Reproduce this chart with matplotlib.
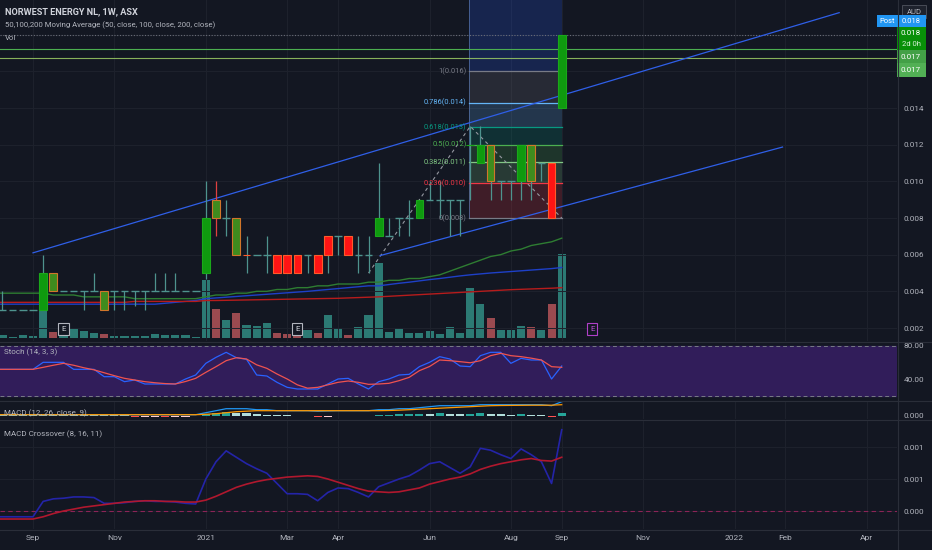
import matplotlib
matplotlib.use('Agg')
import matplotlib.pyplot as plt
import matplotlib.dates as mdates
import matplotlib.transforms as mtransforms
from matplotlib.patches import Rectangle
import pandas as pd

plt.rcParams['font.family'] = ['Roboto', 'DejaVu Sans']

BG = '#131722'
GRID = '#1e222d'
TXT = '#b2b5be'

# ---- weekly bars, 2020-08-10 .. 2021-09-06 ----
dates = pd.date_range('2020-08-10', periods=57, freq='7D')

opens = [.003, .003, .003, .003, .003, .003, .005, .004, .004, .004,
         .004, .004, .004, .004, .004, .004, .004, .004, .004, .004,
         .004, .005, .009, .008, .008, .006, .006, .006, .006, .006,
         .006, .006, .006, .007, .007, .007, .006, .006, .007, .007,
         .008, .008, .008, .009, .009, .009, .009, .012, .011, .012,
         .010, .010, .010, .012, .011, .011, .014]
highs = [.003, .004, .003, .003, .003, .006, .005, .004, .004, .004,
         .005, .004, .004, .004, .004, .004, .005, .005, .005, .004,
         .004, .010, .010, .009, .008, .007, .006, .007, .006, .006,
         .006, .006, .006, .007, .007, .007, .007, .007, .011, .008,
         .008, .009, .009, .010, .010, .009, .009, .013, .013, .012,
         .010, .010, .012, .012, .011, .011, .018]
lows = [.003, .003, .003, .003, .003, .003, .004, .004, .004, .003,
        .004, .003, .003, .003, .0032, .003, .004, .004, .004, .004,
        .004, .0047, .007, .007, .006, .005, .006, .005, .005, .005,
        .005, .005, .005, .005, .006, .006, .005, .005, .007, .007,
        .007, .007, .008, .009, .008, .007, .007, .009, .011, .009,
        .009, .009, .009, .009, .010, .008, .014]
closes = [.003, .003, .003, .003, .003, .005, .004, .004, .004, .004,
          .004, .003, .004, .004, .004, .004, .004, .004, .004, .004,
          .004, .008, .008, .008, .006, .006, .006, .006, .005, .005,
          .005, .006, .005, .006, .007, .006, .006, .006, .008, .007,
          .008, .008, .009, .009, .009, .009, .009, .012, .012, .010,
          .010, .010, .012, .010, .011, .008, .018]
# g = green body, o = green body / orange edge, r = red body, d = doji
styles = list('dddddgoddddoddddddddd' 'godorddrrrdrrdrddgdddgddddggoddgodrg')

volume = [2, 3, 1.3, 3, 2, 28, 6.3, 4, 10.3, 7, 4.7, 4, 2.3, 2.3, 2.3,
          2.3, 3.7, 2.7, 3, 3, 1.3, 58, 29, 18, 24.7, 13, 12.3, 15.3, 5.3,
          4, 3, 8, 4.7, 23, 9.7, 3, 11.3, 23, 75.3, 6.3, 9.7, 4.7, 5.3,
          7.3, 4, 11.3, 5.3, 49.7, 34, 19.7, 8, 8, 12, 11.3, 8, 34, 84]
vol_down = [0, 0, 0, 0, 0, 0, 1, 0, 0, 0, 0, 1, 0, 0, 0, 0, 0, 0, 0, 0,
            0, 0, 1, 0, 1, 0, 0, 0, 1, 1, 1, 0, 1, 0, 0, 1, 0, 0, 0, 0,
            0, 0, 0, 0, 0, 0, 0, 0, 0, 1, 0, 0, 0, 1, 0, 1, 0]

ma50 = [.0039, .0039, .0039, .0039, .0039, .0039, .0038, .0038, .0038,
        .0037, .0037, .0037, .0037, .0037, .0036, .0036, .0036, .0036,
        .0036, .0036, .0036, .0037, .0038, .0038, .0039, .0039, .0040,
        .0040, .0041, .0041, .0042, .0042, .0043, .0043, .0044, .0044,
        .0044, .0045, .0045, .0046, .0046, .0047, .0047, .0048, .0049,
        .0051, .0053, .0055, .0057, .0059, .0060, .0062, .0063, .0065,
        .0066, .0067, .0069]
ma100 = [.0033, .0033, .0033, .0033, .0033, .0033, .0033, .0033, .0033,
         .0033, .0033, .0033, .0033, .0033, .0033, .0033, .0033, .00335,
         .0034, .00345, .0035, .0036, .00364, .00368, .00372, .00376,
         .0038, .00384, .00388, .00392, .00396, .0040, .00405, .0041,
         .00415, .0042, .00425, .0043, .0043, .00437, .00444, .0045,
         .00457, .00464, .0047, .00477, .00484, .0049, .00495, .005,
         .00504, .00508, .00512, .00516, .0052, .00524, .0053]
ma200 = [.0034, .0034, .0034, .0034, .0034, .0034, .0034, .0034, .0034,
         .0034, .0034, .0034, .0034, .0034, .00345, .00345, .00345,
         .00345, .00345, .00345, .00345, .0035, .0035, .00351, .00352,
         .00353, .00354, .00355, .00356, .00357, .00358, .00359, .0036,
         .00361, .00362, .00364, .00366, .00368, .0037, .00373, .00376,
         .00379, .00382, .00385, .00388, .00391, .00394, .00397, .004,
         .00403, .00406, .00409, .00411, .00413, .00415, .00417, .0042]

stoch_k = [51.6, 51.6, 51.6, 51.6, 51.6, 60, 60, 60, 51.6, 51.6, 51.6,
           42.8, 42.8, 36.8, 38.8, 34, 34, 34, 34, 40, 44.8, 58.8, 66, 72,
           65.6, 63.6, 44.8, 43.6, 36, 30, 28, 28, 28, 34, 40, 40.8, 34, 28,
           36.8, 40, 44.8, 45.6, 54.8, 60, 66.8, 64, 55.6, 54.8, 68, 72, 72,
           58.8, 64.8, 62.8, 62.8, 40, 55.6]
stoch_d = [51.6, 51.6, 51.6, 51.6, 51.6, 54, 56.5, 58.8, 56.5, 53.5, 51,
           47.5, 44, 40.8, 38.8, 36.8, 35.5, 34.5, 34, 37, 40.8, 48, 54.8,
           62, 65.6, 64, 57, 52.8, 46, 40, 33, 29, 30, 33, 36, 37.6, 36,
           33.6, 34, 34.8, 38, 42, 50, 55, 62.8, 62, 60.8, 59.5, 62, 68,
           70.8, 68, 66.8, 65, 62.8, 54.8, 54]

macd_line = [.0001] * 21 + [
    .0003, .0005, .0007, .0007, .0007, .0006, .0006, .0005, .0005, .0005,
    .0005, .00045, .00048, .0005, .0005, .0005, .0005, .0006, .0006,
    .0007, .0007, .0008, .0009, .0010, .0010, .0010, .0010, .0011, .0011,
    .0011, .0011, .0011, .0011, .0011, .0010, .0014]
macd_signal = [.0001] * 21 + [
    .00014, .0002, .0003, .0004, .00045, .0005, .0005] + [.0005] * 11 + [
    .00052, .00055, .0006, .00065, .0007, .00075, .0008, .00085, .0009,
    .00095, .001, .00102, .00103, .00104, .00105, .00105, .00105, .0011]
macd_hist = [1.6, 1.6, 1.5, 1.5, 1.4, 1.4, 1.4, 1.3, 1.3, 1.2, 1.2, 1.1,
             1.0, 1.0, -1.2, -1.1, -1.0, -1.0, -0.9, -0.8, -0.7, 1.6, 2.8,
             3.4, 3.0, 2.5, 1.6, 1.1, .6, .3, -.3, -.6, -1.0, -.8, -.6,
             -.5, -.4, -.3, .6, 1.0, 1.5, 1.8, 2.2, 2.0, 2.4, 2.1, 1.7,
             1.9, 2.3, 2.0, 1.6, 1.2, 1.5, 1.2, .7, -.8, 2.8]

cross_fast = [-.00009] * 5 + [
    .00015, .00019, .0002, .00022, .00022, .00021, .00012, .00012, .00013,
    .00015, .00016, .00015, .00015, .00014, .00012, .00011, .0005, .00077,
    .00094, .00084, .00074, .00066, .00059, .00043, .00027, .00027,
    .00026, .00016, .00029, .00036, .00035, .00029, .00022, .00038,
    .00044, .0005, .00055, .00064, .00074, .00077, .00068, .00059,
    .00069, .00098, .00095, .00088, .00082, .00097, .00088, .00077,
    .00043, .00127]
cross_slow = [-.000125] * 5 + [
    -.00009, -.00004, 0, .00003, .00006, .00008, .0001, .00012, .00014,
    .00015, .00016, .00016, .00015, .00015, .00014, .00014, .00017,
    .00023, .0003, .00037, .00042, .00046, .00049, .00051, .00053, .00054,
    .00055, .00054, .0005, .00045, .0004, .00035, .00031, .0003, .00029,
    .0003, .00033, .00036, .00042, .00046, .0005, .00053, .00058, .00065,
    .0007, .00074, .00077, .0008, .00082, .00079, .00078, .00084]

month_ticks = ['2020-09-07', '2020-11-02', '2021-01-04', '2021-03-01',
               '2021-04-05', '2021-06-07', '2021-08-02', '2021-09-06',
               '2021-11-01', '2022-01-03', '2022-02-07', '2022-04-04']
month_labels = ['Sep', 'Nov', '2021', 'Mar', 'Apr', 'Jun', 'Aug', 'Sep',
                'Nov', '2022', 'Feb', 'Apr']

fib_ratios = [0, 0.236, 0.382, 0.5, 0.618, 0.786, 1, 1.618]
fib_colors = ['#787b86', '#f23645', '#81c784', '#4caf50', '#089981',
              '#64b5f6', '#787b86', '#2962ff']

# ---- layout ----
W, H = 932, 550
PLOT_W = 897
fig = plt.figure(figsize=(W / 100, H / 100), dpi=100, facecolor=BG)


def rect(top, bottom):
    return [0, 1 - bottom / H, PLOT_W / W, (bottom - top) / H]


def ftext(px, py, s, **kw):
    fig.text(px / W, 1 - py / H, s, **kw)


def fbox(px, py, w, h, fc, ec='none'):
    fig.add_artist(Rectangle((px / W, 1 - (py + h) / H), w / W, h / H,
                             transform=fig.transFigure, fc=fc, ec=ec,
                             lw=0.6))


ax_vol = fig.add_axes(rect(0, 341))
ax = fig.add_axes(rect(0, 341))
ax_st = fig.add_axes(rect(342, 400))
ax_md = fig.add_axes(rect(401, 419))
ax_mc = fig.add_axes(rect(420, 529))

x = mdates.date2num(dates)
x_left = mdates.date2num(pd.Timestamp('2020-09-07')) - 22.7
x_right = x_left + 617.5
ticks = mdates.date2num(pd.to_datetime(month_ticks))
cw = 5.3  # candle width in days

for a in (ax_vol, ax, ax_st, ax_md, ax_mc):
    a.set_facecolor(BG)
    a.set_xlim(x_left, x_right)
    for s in a.spines.values():
        s.set_visible(False)
    a.set_xticks(ticks)
    a.tick_params(axis='x', length=0, labelbottom=False)
    a.yaxis.tick_right()
    a.tick_params(axis='y', length=0, pad=5, labelsize=5.9, labelcolor=TXT)
    a.grid(color=GRID, lw=0.7)
    a.set_axisbelow(True)
ax.set_facecolor('none')
ax_vol.grid(False)
ax_vol.set_yticks([])
ax_vol.set_xticks([])

# ---- volume ----
vol_cols = ['#9b4a50' if d else '#2c7a74' for d in vol_down]
ax_vol.bar(x, volume, width=cw * 1.05, bottom=0, color=vol_cols)
ax_vol.set_ylim(-3, 338)

# ---- main price panel ----
ax.set_ylim(0.001291, 0.019891)
pt = [0.002, 0.004, 0.006, 0.008, 0.010, 0.012, 0.014, 0.016, 0.018]
ax.set_yticks(pt)
ax.set_yticklabels([f'{v:.3f}' if v < 0.015 else '' for v in pt])

# fib extension: points (k=33, k=43, k=52)
i1, i2, i3 = 37, 47, 56
p1, p2, p3 = lows[i1], highs[i2], lows[i3 - 1]
levels = [p3 + r * (p2 - p1) for r in fib_ratios]
fx0, fx1 = x[i2] - 1, x[i3]
for i in range(len(levels) - 1):
    ax.fill_between([fx0, fx1], levels[i], levels[i + 1],
                    color=fib_colors[i + 1], alpha=0.2, lw=0, zorder=1)
ax.plot([fx0, fx0], [levels[0], levels[-1]], color='#5a78b0', lw=0.7,
        alpha=0.7, zorder=2)
for r, v, c in zip(fib_ratios, levels, fib_colors):
    ax.plot([fx0, fx1], [v, v], color=c, lw=0.9, zorder=2)
    if r < 1.5:
        ax.annotate(f'{r:g}({v:.3f})', (fx0, v), xytext=(-1.5, 0),
                    textcoords='offset points', ha='right', va='center',
                    fontsize=5.4, color=c, zorder=6)
ax.plot([x[i1], x[i2], x[i3]], [p1, p2, p3], color='#9598a1', lw=0.8,
        ls=(0, (3, 3)), zorder=3)

# channel lines
ch_up = pd.to_datetime(['2020-09-07', '2022-03-16'])
ch_lo = pd.to_datetime(['2021-05-04', '2022-02-05'])
ax.plot(mdates.date2num(ch_up), [0.0061, 0.0192], color='#2f5fe8', lw=0.9,
        zorder=3)
ax.plot(mdates.date2num(ch_lo), [0.00595, 0.01187], color='#2f5fe8', lw=0.9,
        zorder=3)

# horizontal lines and last price line
ax.axhline(0.01722, color='#4caf50', lw=0.8, zorder=2)
ax.axhline(0.01671, color='#9ccc65', lw=0.8, alpha=0.85, zorder=2)
ax.axhline(0.018, color='#6a6d78', lw=0.8, ls=(0, (1, 1.5)), zorder=2)

# moving averages
ax.plot(x, ma50, color='#2e7d32', lw=1.0, zorder=3)
ax.plot(x, ma100, color='#1e40c8', lw=1.0, zorder=3)
ax.plot(x, ma200, color='#b71c1c', lw=1.0, zorder=3)

# candles
WICK = '#4e938e'
for xi, o, h, l, c, st in zip(x, opens, highs, lows, closes, styles):
    wick = '#e04040' if (st == 'o' and h == 0.010 and o == 0.009) else WICK
    if h > l:
        ax.vlines(xi, l, h, color=wick, lw=0.9, zorder=4)
    if st == 'd':
        ax.hlines(o, xi - cw / 2, xi + cw / 2, color=WICK, lw=1.0, zorder=4)
        continue
    fill, edge = {'g': ('#0f9a0f', '#1aa81a'),
                  'o': ('#3f8c1e', '#d2762a'),
                  'r': ('#ff1414', '#ff5a2a')}[st]
    ax.bar(xi, abs(c - o), width=cw, bottom=min(o, c), color=fill,
           edgecolor=edge, lw=0.8, zorder=5)

# earnings markers
blend = mtransforms.blended_transform_factory(ax.transData, ax.transAxes)
for d, col, tcol in [('2020-09-28', '#b2b5be', '#d1d4dc'),
                     ('2021-03-08', '#b2b5be', '#d1d4dc'),
                     ('2021-09-27', '#b040c8', '#c050d8')]:
    ax.text(mdates.date2num(pd.Timestamp(d)), 0.036, 'E', transform=blend,
            ha='center', va='center', fontsize=5.8, color=tcol, zorder=7,
            bbox=dict(boxstyle='square,pad=0.35', fc=BG, ec=col, lw=0.8))

# ---- stochastic ----
ax_st.axhspan(20, 80, color='#311d5a', zorder=0)
for lv in (80, 20):
    ax_st.axhline(lv, color='#787b86', lw=0.7, ls=(0, (4, 3)), zorder=1)
ax_st.plot(x, stoch_k, color='#2962ff', lw=0.9, zorder=3)
ax_st.plot(x, stoch_d, color='#ef5350', lw=0.9, zorder=3)
ax_st.set_ylim(14.8, 84.4)
ax_st.set_yticks([40, 80])
ax_st.set_yticklabels(['40.00', '80.00'])
ax_st.grid(False)

# ---- MACD ----
hist_cols = []
prev = macd_hist[0]
for hv in macd_hist:
    if hv >= 0:
        hist_cols.append('#26a69a' if hv > prev else '#b2dfdb')
    else:
        hist_cols.append('#ffcdd2' if hv > prev else '#ff5252')
    prev = hv
ax_md.bar(x, [hv * 1e-4 for hv in macd_hist], width=cw * 1.05,
          color=hist_cols, zorder=2)
ax_md.plot(x, macd_line, color='#2196f3', lw=0.9, zorder=3)
ax_md.plot(x, macd_signal, color='#ff9800', lw=0.9, zorder=3)
ax_md.set_ylim(-0.00033, 0.00147)
ax_md.set_yticks([0])
ax_md.set_yticklabels(['0.000'])
ax_md.yaxis.grid(False)

# ---- MACD crossover ----
ax_mc.axhline(0, color='#8b2457', lw=0.8, ls=(0, (4, 3)), zorder=2)
ax_mc.plot(x, cross_fast, color='#2424a8', lw=1.2, zorder=3)
ax_mc.plot(x, cross_slow, color='#b0182e', lw=1.2, zorder=3)
ax_mc.set_ylim(-0.000281, 0.001422)
ax_mc.set_yticks([0, 0.0005, 0.001])
ax_mc.set_yticklabels(['0.000', '0.001', '0.001'])
ax_mc.set_xticklabels(month_labels)
ax_mc.tick_params(axis='x', labelbottom=True, labelsize=6.0,
                  labelcolor=TXT, pad=4.5)

# ---- separators ----
for yy in (341.5, 400.5, 419.5, 529.5):
    fig.add_artist(plt.Line2D([0, 1], [1 - yy / H] * 2, color='#2a2e39',
                              lw=0.8, transform=fig.transFigure))
fig.add_artist(plt.Line2D([(PLOT_W + 0.5) / W] * 2, [0, 1], color='#2a2e39',
                          lw=0.8, transform=fig.transFigure))

# ---- texts ----
ftext(5, 12, 'NORWEST ENERGY NL, 1W, ASX', fontsize=6.6, color='#d1d4dc',
      fontweight='bold', va='center')
ftext(5, 25, '50,100,200 Moving Average (50, close, 100, close, 200, close)',
      fontsize=5.6, color=TXT, va='center')
ftext(5, 38, 'Vol', fontsize=5.6, color=TXT, va='center')
ftext(4, 352, 'Stoch (14, 3, 3)', fontsize=5.8, color=TXT, va='center')
ftext(4, 413, 'MACD (12, 26, close, 9)', fontsize=5.8, color=TXT,
      va='center')
ftext(4, 434, 'MACD Crossover (8, 16, 11)', fontsize=5.8, color=TXT,
      va='center')

# price scale labels
fbox(902, 5, 24, 13, '#1e222d', '#50535e')
ftext(914, 11.5, 'AUD', fontsize=5.5, color=TXT, ha='center', va='center')
fbox(877, 15, 49, 12, '#2196f3')
ftext(887, 21, 'Post', fontsize=5.5, color='white', ha='center',
      va='center')
ftext(911, 21, '0.018', fontsize=5.5, color='white', ha='center',
      va='center')
fbox(897, 27, 29, 23, '#089008')
ftext(911, 33, '0.018', fontsize=5.8, color='white', ha='center',
      va='center')
ftext(911, 44, '2d 0h', fontsize=5.5, color='#d8f0d8', ha='center',
      va='center')
fbox(897, 50, 29, 13, '#43a047')
ftext(911, 57, '0.017', fontsize=5.8, color='white', ha='center',
      va='center')
fbox(897, 63, 29, 14, '#52b055')
ftext(911, 70, '0.017', fontsize=5.8, color='white', ha='center',
      va='center')

fig.savefig('out.png', dpi=100, facecolor=BG)
